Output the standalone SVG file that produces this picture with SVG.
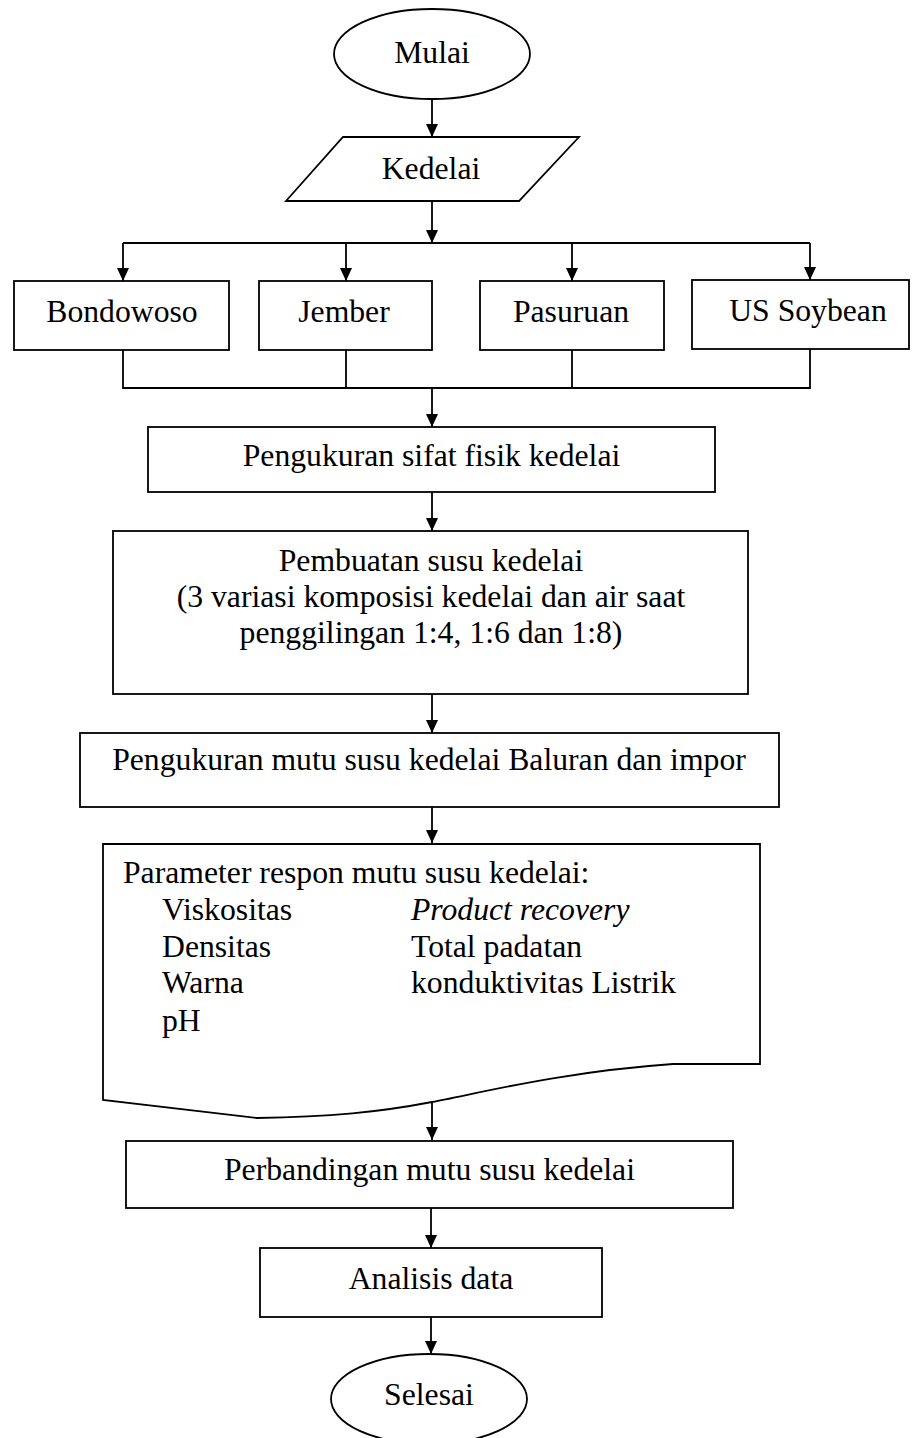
<svg xmlns="http://www.w3.org/2000/svg" width="912" height="1438" viewBox="0 0 912 1438">
<defs>
<style>
.s{fill:#fff;stroke:#000;stroke-width:1.8}
.c{fill:none;stroke:#000;stroke-width:1.8}
text{font-family:"Liberation Serif","Times New Roman",serif;font-size:31.7px;fill:#000}
.m{text-anchor:middle}
.i{font-style:italic}
</style>
<marker id="ah" markerUnits="userSpaceOnUse" markerWidth="14" markerHeight="14" viewBox="0 0 14 14" refX="13" refY="7" orient="auto">
<path d="M0,1 L13,7 L0,13 Z" fill="#000"/>
</marker>
</defs>
<rect width="912" height="1438" fill="#fff"/>
<g id="connectors">
<path class="c" d="M432,99 V137" marker-end="url(#ah)"/>
<path class="c" d="M432,201 V243" marker-end="url(#ah)"/>
<path class="c" d="M123,243 H810"/>
<path class="c" d="M123,243 V281" marker-end="url(#ah)"/>
<path class="c" d="M346,243 V281" marker-end="url(#ah)"/>
<path class="c" d="M572,243 V281" marker-end="url(#ah)"/>
<path class="c" d="M810,243 V280" marker-end="url(#ah)"/>
<path class="c" d="M123,350 V388 H810 V349 M346,350 V388 M572,350 V388"/>
<path class="c" d="M432,388 V427" marker-end="url(#ah)"/>
<path class="c" d="M432,492 V531" marker-end="url(#ah)"/>
<path class="c" d="M432,694 V733" marker-end="url(#ah)"/>
<path class="c" d="M432,807 V843" marker-end="url(#ah)"/>
<path class="c" d="M432,1102 V1140" marker-end="url(#ah)"/>
<path class="c" d="M431,1208 V1248" marker-end="url(#ah)"/>
<path class="c" d="M431,1317 V1354" marker-end="url(#ah)"/>
</g>
<g id="mulai">
<ellipse class="s" cx="432" cy="54" rx="98" ry="45"/>
<text class="m" x="432" y="63">Mulai</text>
</g>
<g id="kedelai">
<polygon class="s" points="343,137 579,137 519,201 286,201"/>
<text class="m" x="431" y="179">Kedelai</text>
</g>
<g id="bondowoso">
<rect class="s" x="14" y="281" width="215" height="69"/>
<text class="m" x="122" y="322">Bondowoso</text>
</g>
<g id="jember">
<rect class="s" x="259" y="281" width="173" height="69"/>
<text class="m" x="344" y="322">Jember</text>
</g>
<g id="pasuruan">
<rect class="s" x="480" y="281" width="184" height="69"/>
<text class="m" x="571" y="322">Pasuruan</text>
</g>
<g id="ussoybean">
<rect class="s" x="692" y="280" width="217" height="69"/>
<text class="m" x="808" y="321">US Soybean</text>
</g>
<g id="sifatfisik">
<rect class="s" x="148" y="427" width="567" height="65"/>
<text class="m" x="431.5" y="466">Pengukuran sifat fisik kedelai</text>
</g>
<g id="pembuatan">
<rect class="s" x="113" y="531" width="635" height="163"/>
<text class="m" x="431" y="571">Pembuatan susu kedelai</text>
<text class="m" x="431" y="607">(3 variasi komposisi kedelai dan air saat</text>
<text class="m" x="431" y="643">penggilingan 1:4, 1:6 dan 1:8)</text>
</g>
<g id="mutu">
<rect class="s" x="80" y="733" width="699" height="74"/>
<text class="m" x="429" y="770">Pengukuran mutu susu kedelai Baluran dan impor</text>
</g>
<g id="parameter">
<path class="s" d="M103,844 H760 V1064 H673 C560,1072 480,1093 432,1102 C380,1112 330,1117 257,1118 L103,1100 Z"/>
<text x="123" y="883">Parameter respon mutu susu kedelai:</text>
<text x="162" y="920">Viskositas</text>
<text class="i" x="411" y="920">Product recovery</text>
<text x="162" y="957">Densitas</text>
<text x="411" y="957">Total padatan</text>
<text x="162" y="993">Warna</text>
<text x="411" y="993">konduktivitas Listrik</text>
<text x="162" y="1031">pH</text>
</g>
<g id="perbandingan">
<rect class="s" x="126" y="1141" width="607" height="67"/>
<text class="m" x="429.5" y="1180">Perbandingan mutu susu kedelai</text>
</g>
<g id="analisis">
<rect class="s" x="260" y="1248" width="342" height="69"/>
<text class="m" x="431" y="1289">Analisis data</text>
</g>
<g id="selesai">
<ellipse class="s" cx="429" cy="1399" rx="98" ry="45"/>
<text class="m" x="429" y="1405">Selesai</text>
</g>
</svg>
